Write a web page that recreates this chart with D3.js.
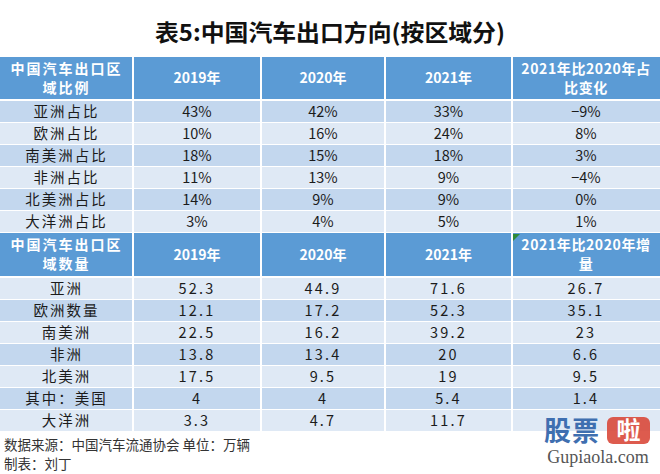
<!DOCTYPE html>
<html><head><meta charset="utf-8">
<script src="https://cdn.jsdelivr.net/npm/d3@7"></script>
<style>
html,body{margin:0;padding:0;background:#fff;}
svg{display:block;}
text{font-family:"Noto Sans CJK SC","Noto Sans",sans-serif;}
</style></head>
<body>
<svg id="c" width="660" height="474"></svg>
<script>
const title = "表5:中国汽车出口方向(按区域分)";
const columns = ["label","y2019","y2020","y2021","chg"];
const header1 = ["中国汽车出口区\n域比例","2019年","2020年","2021年","2021年比2020年占\n比变化"];
const header2 = ["中国汽车出口区\n域数量","2019年","2020年","2021年","2021年比2020年增\n量"];
const shareLabels = ["亚洲占比","欧洲占比","南美洲占比","非洲占比","北美洲占比","大洋洲占比"];
const share2019 = ["43%","10%","18%","11%","14%","3%"];
const share2020 = ["42%","16%","15%","13%","9%","4%"];
const share2021 = ["33%","24%","18%","9%","9%","5%"];
const shareChg  = ["−9%","8%","3%","−4%","0%","1%"];
const volLabels = ["亚洲","欧洲数量","南美洲","非洲","北美洲","其中：美国","大洋洲"];
const vol2019 = ["52.3","12.1","22.5","13.8","17.5","4","3.3"];
const vol2020 = ["44.9","17.2","16.2","13.4","9.5","4","4.7"];
const vol2021 = ["71.6","52.3","39.2","20","19","5.4","11.7"];
const volChg  = ["26.7","35.1","23","6.6","9.5","1.4",""];
const footnote1 = "数据来源：中国汽车流通协会  单位：万辆";
const footnote2 = "制表：刘丁";

const svg = d3.select("#c");
const HEAD = "#5b9bd5", DARK = "#c3d7ee", LIGHT = "#dfe9f5";

svg.append("text").attr("x",330).attr("y",41).attr("text-anchor","middle")
  .attr("font-size",23).attr("font-weight","bold").attr("fill","#111")
  .attr("textLength",350).attr("lengthAdjust","spacingAndGlyphs").text(title);

const colEdges = [0,133,261,385,512,660];
const xLeft = d3.scaleOrdinal().domain(columns).range(colEdges.slice(0,5));
const xRight = d3.scaleOrdinal().domain(columns).range(colEdges.slice(1));

function drawBlock(top, headH, rowH, header, rows, firstDark, numeric){
  const g = svg.append("g");
  const yRow = d3.scaleBand().domain(d3.range(rows.length)).range([top+headH+1, top+headH+1+rowH*rows.length]);
  columns.forEach((c,i)=>{
    const x0 = xLeft(c)+(i?1:0), x1 = xRight(c)-(i<4?1:0);
    g.append("rect").attr("x",x0).attr("y",top).attr("width",x1-x0).attr("height",headH).attr("fill",HEAD);
    const lines = header[i].split("\n");
    const cx = (xLeft(c)+xRight(c))/2, cy = top+headH/2;
    const lh = 19;
    lines.forEach((ln,k)=>{
      g.append("text").attr("x",cx).attr("y",cy+(k-(lines.length-1)/2)*lh).attr("dy","0.36em")
        .attr("text-anchor","middle").attr("fill","#fff").attr("font-weight","bold")
        .attr("font-size",14).attr("letter-spacing", i===0 ? 2 : (lines.length>1?0.6:0)).text(ln);
    });
    rows.forEach((r,j)=>{
      const dark = (j%2===0) === firstDark;
      const y = yRow(j);
      g.append("rect").attr("x",x0).attr("y",y+1).attr("width",x1-x0).attr("height",yRow.bandwidth()-1)
        .attr("fill",dark?DARK:LIGHT);
      g.append("text").attr("x",cx).attr("y",y+yRow.bandwidth()/2+0.5).attr("dy","0.36em")
        .attr("text-anchor","middle").attr("fill","#1b1b1b").attr("font-size",14.5)
        .attr("letter-spacing", i===0 ? 2 : (numeric?2.2:0)).text(r[i]);
    });
  });
  return g;
}

const rows1 = shareLabels.map((l,i)=>[l,share2019[i],share2020[i],share2021[i],shareChg[i]]);
const rows2 = volLabels.map((l,i)=>[l,vol2019[i],vol2020[i],vol2021[i],volChg[i]]);
drawBlock(57, 42, 22, header1, rows1, true, false);
drawBlock(233, 43, 22, header2, rows2, false, true);

svg.append("path").attr("d","M513,234 L520,234 L513,241 Z").attr("fill","#2e8b3a");

svg.append("text").attr("x",4).attr("y",450).attr("font-size",13.5).attr("fill","#333").text(footnote1);
svg.append("text").attr("x",4).attr("y",469).attr("font-size",13.5).attr("fill","#333").text(footnote2);

// watermark logo
const logo = svg.append("g");
logo.append("text").attr("x",544).attr("y",441).attr("font-size",27).attr("font-weight","bold")
  .attr("fill","#3f6fb0").attr("letter-spacing",1).text("股票");
logo.append("rect").attr("x",607).attr("y",417).attr("width",43).attr("height",27).attr("rx",6).attr("fill","#d9493b").attr("opacity",0.9);
logo.append("text").attr("x",628.5).attr("y",439).attr("text-anchor","middle").attr("font-size",24)
  .attr("font-weight","bold").attr("fill","#fff").text("啦");
logo.append("text").attr("x",598).attr("y",463).attr("text-anchor","middle").attr("font-size",18)
  .attr("fill","#555").style("font-family","'Liberation Serif','DejaVu Serif',serif").text("Gupiaola.com");
</script>
</body></html>
